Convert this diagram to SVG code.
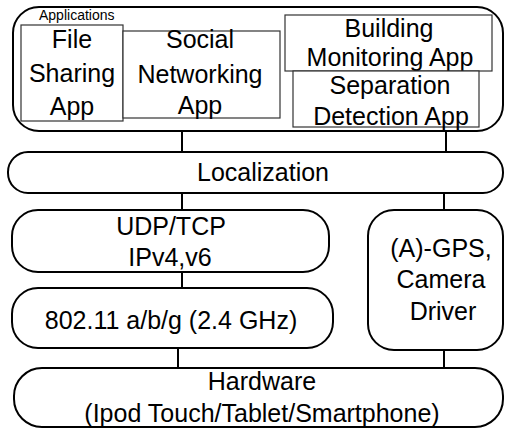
<svg xmlns="http://www.w3.org/2000/svg" width="506" height="429" viewBox="0 0 506 429">
  <style>
    .layer { fill: #ffffff; stroke: #000000; stroke-width: 2; }
    .app { fill: #ffffff; stroke: #333333; stroke-width: 1.2; }
    .link { stroke: #000000; stroke-width: 2; fill: none; }
    text { font-family: "Liberation Sans", Arial, sans-serif; font-size: 25px; fill: #000000; text-anchor: middle; }
    .small { font-size: 14px; text-anchor: start; }
  </style>
  <rect width="506" height="429" fill="#ffffff"/>

  <!-- connectors between stacked layers -->
  <g id="connectors">
    <line class="link" x1="182" y1="131" x2="182" y2="152"/>
    <line class="link" x1="446" y1="131" x2="446" y2="152"/>
    <line class="link" x1="182" y1="193" x2="182" y2="210"/>
    <line class="link" x1="444" y1="193" x2="444" y2="210"/>
    <line class="link" x1="182" y1="272" x2="182" y2="288"/>
    <line class="link" x1="178" y1="348" x2="178" y2="368"/>
    <line class="link" x1="444" y1="350" x2="444" y2="368"/>
  </g>

  <g id="applications">
    <rect class="layer" x="13" y="7" width="490" height="124" rx="26" ry="26"/>
    <text class="small" x="39" y="20">Applications</text>
  </g>

  <g id="file-sharing">
    <rect class="app" x="21" y="25" width="102" height="96"/>
    <text x="72" y="48">File</text>
    <text x="72" y="82">Sharing</text>
    <text x="72" y="115">App</text>
  </g>

  <g id="social-networking">
    <rect class="app" x="123" y="31" width="157" height="87"/>
    <text x="200" y="48">Social</text>
    <text x="200" y="83">Networking</text>
    <text x="200" y="114">App</text>
  </g>

  <g id="building-monitoring">
    <rect class="app" x="285" y="15" width="207" height="56"/>
    <text x="389" y="37">Building</text>
    <text x="390" y="66">Monitoring App</text>
  </g>

  <g id="separation-detection">
    <rect class="app" x="293" y="71" width="186" height="56"/>
    <text x="390" y="94">Separation</text>
    <text x="391" y="125">Detection App</text>
  </g>

  <g id="localization">
    <rect class="layer" x="8" y="152" width="495" height="41" rx="20" ry="20"/>
    <text x="263" y="181">Localization</text>
  </g>

  <g id="transport">
    <rect class="layer" x="12" y="210" width="317" height="62" rx="26" ry="26"/>
    <text x="171" y="235">UDP/TCP</text>
    <text x="170" y="266">IPv4,v6</text>
  </g>

  <g id="gps-camera">
    <rect class="layer" x="368" y="210" width="135" height="140" rx="26" ry="26"/>
    <text x="441" y="257">(A)-GPS,</text>
    <text x="441" y="288">Camera</text>
    <text x="443" y="320">Driver</text>
  </g>

  <g id="wifi">
    <rect class="layer" x="12" y="288" width="321" height="60" rx="26" ry="26"/>
    <text x="171" y="329">802.11 a/b/g (2.4 GHz)</text>
  </g>

  <g id="hardware">
    <rect class="layer" x="14" y="368" width="489" height="59" rx="28" ry="28"/>
    <text x="262" y="390">Hardware</text>
    <text x="262" y="422">(Ipod Touch/Tablet/Smartphone)</text>
  </g>
</svg>
